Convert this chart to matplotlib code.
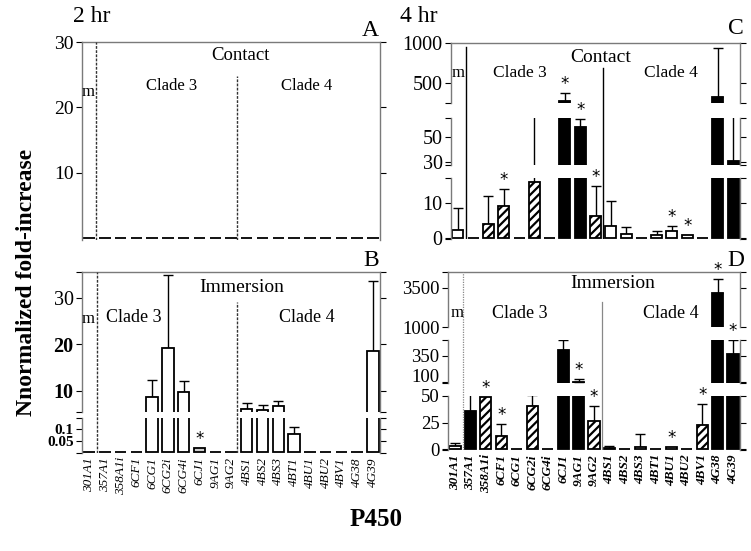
import numpy as np
import matplotlib
matplotlib.use('Agg')
import matplotlib.pyplot as plt

plt.rcParams['font.family'] = 'Liberation Serif'
plt.rcParams['hatch.linewidth'] = 1.6

genes = ['301A1', '357A1', '358A1i', '6CF1', '6CG1', '6CG2i', '6CG4i', '6CJ1',
         '9AG1', '9AG2', '4BS1', '4BS2', '4BS3', '4BT1', '4BU1', '4BU2',
         '4BV1', '4G38', '4G39']

# 2 hr contact (A): nothing induced
vals_a = [0] * 19
err_a = [0] * 19
fill_a = ['w'] * 19
stars_a = []

# 2 hr immersion (B)
vals_b = [0, 0, 0, 0, 8.6, 19.3, 9.7, 0.017, 0, 0, 6.1, 5.9, 6.6, 0.079, 0, 0, 0, 0, 18.6]
err_b = [0, 0, 0, 0, 12.3, 35.0, 12.0, 0, 0, 0, 7.4, 6.9, 7.8, 0.109, 0, 0, 0, 0, 33.6]
fill_b = ['w'] * 7 + ['g'] + ['w'] * 11
stars_b = ['6CJ1']

# 4 hr contact (C)
vals_c = [2.3, 0, 4.0, 9.1, 0, 16.0, 0, 280, 58, 6.3, 3.3, 1.0, 0, 0.7, 1.9, 0.7, 0, 330, 30.8]
err_c = [8.6, 0, 12.0, 13.9, 0, 68, 0, 380, 64.5, 14.6, 10.6, 3.1, 0, 1.9, 3.4, 0, 0, 940, 68]
fill_c = ['w', 'k', 'h', 'h', 'w', 'h', 'w', 'k', 'k', 'h',
          'w', 'w', 'w', 'w', 'w', 'w', 'w', 'k', 'k']
stars_c = ['6CF1', '6CJ1', '9AG1', '9AG2', '4BU1', '4BU2']

# 4 hr immersion (D)
vals_d = [3.0, 36, 49.5, 12.8, 0, 40.3, 0, 408, 100, 26.8, 1.0, 0, 2.7, 0.6, 2.4, 0, 22.9, 3160, 369]
err_d = [6.0, 52, 0, 23.8, 0, 51, 0, 496, 135, 41, 3.7, 0, 14.6, 0, 0, 0, 42.7, 4056, 496]
fill_d = ['w', 'k', 'h', 'h', 'w', 'h', 'w', 'k', 'k', 'h',
          'w', 'w', 'w', 'k', 'w', 'w', 'h', 'k', 'k']
stars_d = ['358A1i', '6CF1', '9AG1', '9AG2', '4BU1', '4BV1', '4G38', '4G39']

W, H = 751, 551
fig = plt.figure(figsize=(W / 100, H / 100), dpi=100)

SPINE = '#7a7a7a'
x = np.arange(len(genes))
XLIM = (-0.45, len(genes) - 0.55)


def rect(x0, x1, ytop, ybot):
    return [x0 / W, 1 - ybot / H, (x1 - x0) / W, (ybot - ytop) / H]


def px(xp, yp):
    return xp / W, 1 - yp / H


def draw_panel(x0, x1, segs, vals, errs, fills, stars, ticks, tick_sizes,
               bold_ticks, xlab_weight, show_xlabels=True, raised=()):
    vals = np.array(vals, float)
    errs = np.array(errs, float)
    axes = []
    for k, (lo, hi, yt, yb) in enumerate(segs):
        ax = fig.add_axes(rect(x0, x1, yt, yb))
        bars = ax.bar(x, vals, width=0.72, edgecolor='k', linewidth=1.3, zorder=2)
        for b, f in zip(bars, fills):
            if f == 'k':
                b.set_facecolor('k')
            elif f == 'g':
                b.set_facecolor('#cfcfcf')
            else:
                b.set_facecolor('w')
            if f == 'h':
                b.set_hatch('////')
        m = errs > vals
        ax.errorbar(x[m], vals[m], yerr=[np.zeros(m.sum()), (errs - vals)[m]],
                    fmt='none', ecolor='k', elinewidth=1, capsize=3.5,
                    capthick=1, zorder=1)
        ax.set_xlim(XLIM)
        ax.set_ylim(lo, hi)
        ax.set_yticks(ticks[k])
        ax.set_yticklabels([('%g' % t) for t in ticks[k]], fontsize=tick_sizes[k])
        for lab, t in zip(ax.get_yticklabels(), ticks[k]):
            if t in bold_ticks:
                lab.set_fontweight('bold')
            if t in raised:
                lab.set_verticalalignment('baseline')
        if len(segs) > 1:
            ax.set_yticks([lo, hi], minor=True)
        ax.tick_params(axis='y', which='both', direction='out', length=4,
                       width=0.8, color='k', right=True, labelright=False, pad=2)
        ax.spines['bottom'].set_visible(False)
        ax.spines['top'].set_visible(k == len(segs) - 1)
        for s in ax.spines.values():
            s.set_color(SPINE)
            s.set_linewidth(1)
        ax.set_xticks(x)
        ax.tick_params(axis='x', length=0, pad=3)
        if k == 0 and show_xlabels:
            ax.set_xticklabels(genes, rotation=90, fontsize=9.5, style='italic',
                               weight=xlab_weight)
        else:
            ax.set_xticklabels([])
        ax.patch.set_alpha(0)
        axes.append(ax)

    # significance stars, placed above bar/error in the segment that holds it
    for g in stars:
        i = genes.index(g)
        top = max(vals[i], errs[i])
        for k, (lo, hi, yt, yb) in enumerate(segs):
            if top <= hi or k == len(segs) - 1:
                axes[k].annotate('*', xy=(i, min(top, hi)), xytext=(0, 0),
                                 textcoords='offset points', ha='center',
                                 va='bottom', fontsize=12, family='DejaVu Sans',
                                 annotation_clip=False, zorder=5)
                break

    ov = fig.add_axes(rect(x0, x1, segs[-1][2], segs[0][3]))
    ov.set_xlim(XLIM)
    ov.set_ylim(0, 1)
    ov.axis('off')
    ov.patch.set_alpha(0)
    return axes, ov


# ---- A: 2 hr contact
axA, ovA = draw_panel(82, 380, [(-0.3, 30, 42, 240)], vals_a, err_a, fill_a,
                      stars_a, [[10, 20, 30]], [14], [], 'normal',
                      show_xlabels=False)
ovA.axvline(0.45, 0, 1, color='#333333', lw=1, ls=(0, (2, 1)))
ovA.axvline(9.4, 0, 0.83, color='#333333', lw=1, ls=(0, (2, 1)))

# ---- B: 2 hr immersion
axB, ovB = draw_panel(82, 380, [(-0.003, 0.15, 418, 453), (5.4, 35.6, 272, 412)],
                      vals_b, err_b, fill_b, stars_b,
                      [[0.05, 0.1], [10, 20, 30]], [11, 14.5],
                      [0.05, 0.1, 10, 20], 'normal')
ovB.axvline(0.5, 0, 1, color='#333333', lw=1, ls=(0, (2, 1)))
ovB.axvline(9.4, 0, 0.834, color='#333333', lw=1, ls=(0, (2, 1)))

# ---- C: 4 hr contact
axC, ovC = draw_panel(451, 740, [(-0.3, 17, 178, 239), (27.5, 65, 118, 165),
                                 (250, 1000, 43, 103)],
                      vals_c, err_c, fill_c, stars_c,
                      [[0, 10], [30, 50], [500, 1000]], [14.5] * 3, [], 'bold',
                      show_xlabels=False)
ovC.axvline(0.5, 0, 0.98, color='k', lw=1)
ovC.axvline(9.5, 0, 0.87, color='k', lw=1)

# ---- D: 4 hr immersion
axD, ovD = draw_panel(448, 740, [(-0.5, 50, 396, 450), (95, 500, 340, 383),
                                 (1000, 4500, 272, 327)],
                      vals_d, err_d, fill_d, stars_d,
                      [[0, 25, 50], [100, 350], [1000, 3500]], [13.5] * 3, [],
                      'bold', raised=(100,))
ovD.axvline(0.55, 0, 1, color='#888888', lw=0.9, ls=(0, (1, 1)))
ovD.axvline(9.55, 0, 0.83, color='#888888', lw=0.9)

# panel texts
fig.text(*px(73, 17), '2 hr', fontsize=17, ha='left', va='center')
fig.text(*px(400, 17), '4 hr', fontsize=17, ha='left', va='center')
fig.text(*px(379, 30), 'A', fontsize=17, ha='right', va='center')
fig.text(*px(379, 261), 'B', fontsize=17, ha='right', va='center')
fig.text(*px(744, 28), 'C', fontsize=17, ha='right', va='center')
fig.text(*px(744, 261), 'D', fontsize=17, ha='right', va='center')

fig.text(*px(240, 56), 'Contact', fontsize=13.5, ha='center', va='center')
fig.text(*px(172, 86), 'Clade 3', fontsize=12, ha='center', va='center')
fig.text(*px(307, 86), 'Clade 4', fontsize=12, ha='center', va='center')
fig.text(*px(88, 92), 'm', fontsize=12, ha='center', va='center')

fig.text(*px(242, 288), 'Immersion', fontsize=14, ha='center', va='center')
fig.text(*px(134, 318), 'Clade 3', fontsize=13, ha='center', va='center')
fig.text(*px(307, 318), 'Clade 4', fontsize=13, ha='center', va='center')
fig.text(*px(88, 319), 'm', fontsize=12, ha='center', va='center')

fig.text(*px(601, 57), 'Contact', fontsize=14, ha='center', va='center')
fig.text(*px(520, 73), 'Clade 3', fontsize=12.5, ha='center', va='center')
fig.text(*px(671, 73), 'Clade 4', fontsize=12.5, ha='center', va='center')
fig.text(*px(458, 73), 'm', fontsize=12, ha='center', va='center')

fig.text(*px(613, 283), 'Immersion', fontsize=14, ha='center', va='center')
fig.text(*px(520, 313), 'Clade 3', fontsize=13, ha='center', va='center')
fig.text(*px(671, 313), 'Clade 4', fontsize=13, ha='center', va='center')
fig.text(*px(457, 313), 'm', fontsize=12, ha='center', va='center')

fig.text(*px(27, 282), 'Nnormalized fold-increase', fontsize=17, weight='bold',
         rotation=90, ha='center', va='center')
fig.text(*px(376, 520), 'P450', fontsize=18, weight='bold', ha='center',
         va='center')

fig.savefig('out.png', dpi=100)
